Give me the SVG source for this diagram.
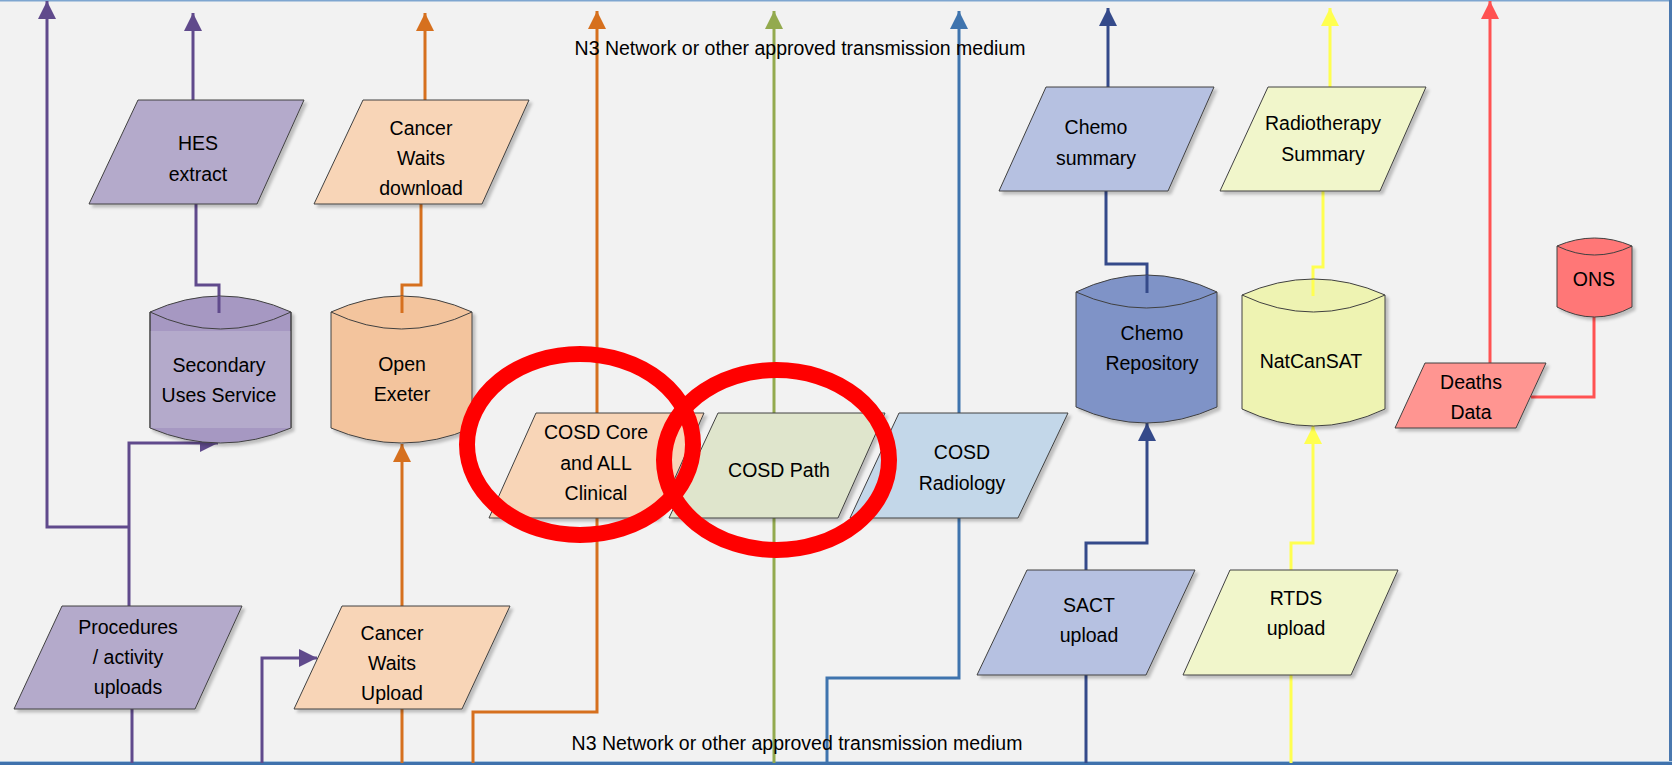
<svg xmlns="http://www.w3.org/2000/svg" width="1672" height="765" viewBox="0 0 1672 765">
  <style>
    text { font-family: "Liberation Sans", Arial, sans-serif; font-size: 19.5px; fill: #000; text-anchor: middle; }
    .shape { stroke: #404040; stroke-width: 1; filter: url(#shadow); }
    .edge { fill: none; stroke-width: 3; stroke-linejoin: miter; }
    .purple { stroke: #604a8c; }
    .orange { stroke: #d6701e; }
    .green { stroke: #93aa4e; }
    .blue { stroke: #3f74ae; }
    .navy { stroke: #354a8a; }
    .yellow { stroke: #ffff50; }
    .red { stroke: #ff5252; }
    .ring { fill: none; stroke: #ff0000; stroke-width: 16; }
  </style>
  <defs>
    <filter id="shadow" x="-10%" y="-10%" width="130%" height="130%">
      <feDropShadow dx="3" dy="3" stdDeviation="1.5" flood-color="#000" flood-opacity="0.22"/>
    </filter>
    <marker id="a-purple" viewBox="0 0 10 10" refX="10" refY="5" markerUnits="userSpaceOnUse" markerWidth="19" markerHeight="18" orient="auto"><path d="M0,0 L10,5 L0,10 z" fill="#604a8c"/></marker>
    <marker id="a-orange" viewBox="0 0 10 10" refX="10" refY="5" markerUnits="userSpaceOnUse" markerWidth="19" markerHeight="18" orient="auto"><path d="M0,0 L10,5 L0,10 z" fill="#d6701e"/></marker>
    <marker id="a-green" viewBox="0 0 10 10" refX="10" refY="5" markerUnits="userSpaceOnUse" markerWidth="19" markerHeight="18" orient="auto"><path d="M0,0 L10,5 L0,10 z" fill="#93aa4e"/></marker>
    <marker id="a-blue" viewBox="0 0 10 10" refX="10" refY="5" markerUnits="userSpaceOnUse" markerWidth="19" markerHeight="18" orient="auto"><path d="M0,0 L10,5 L0,10 z" fill="#3f74ae"/></marker>
    <marker id="a-navy" viewBox="0 0 10 10" refX="10" refY="5" markerUnits="userSpaceOnUse" markerWidth="19" markerHeight="18" orient="auto"><path d="M0,0 L10,5 L0,10 z" fill="#354a8a"/></marker>
    <marker id="a-yellow" viewBox="0 0 10 10" refX="10" refY="5" markerUnits="userSpaceOnUse" markerWidth="19" markerHeight="18" orient="auto"><path d="M0,0 L10,5 L0,10 z" fill="#ffff50"/></marker>
    <marker id="a-red" viewBox="0 0 10 10" refX="10" refY="5" markerUnits="userSpaceOnUse" markerWidth="19" markerHeight="18" orient="auto"><path d="M0,0 L10,5 L0,10 z" fill="#ff5252"/></marker>
  </defs>

  <!-- page background and frame -->
  <rect x="0" y="0" width="1672" height="765" fill="#f2f2f2"/>
  <line x1="0" y1="0.75" x2="1672" y2="0.75" stroke="#7ea6d0" stroke-width="1.5"/>
  <line x1="1670.5" y1="0" x2="1670.5" y2="765" stroke="#4a78af" stroke-width="3"/>
  <line x1="0" y1="763.5" x2="1672" y2="763.5" stroke="#3f72ad" stroke-width="3"/>
  <line x1="0" y1="761.5" x2="1672" y2="761.5" stroke="#a9c4de" stroke-width="1"/>

  <!-- connectors -->
  <g id="connectors">
    <!-- procedures / activity -->
    <path class="edge purple" d="M129,606 V443 H218" marker-end="url(#a-purple)"/>
    <path class="edge purple" d="M129,527 H47 V1" marker-end="url(#a-purple)"/>
    <path class="edge purple" d="M132,763 V709"/>
    <path class="edge purple" d="M262,763 V658 H317" marker-end="url(#a-purple)"/>
    <!-- SUS to HES -->
    <path class="edge purple" d="M219,313 V285 H196 V204"/>
    <path class="edge purple" d="M193,100 V13" marker-end="url(#a-purple)"/>
    <!-- cancer waits -->
    <path class="edge orange" d="M402,763 V709"/>
    <path class="edge orange" d="M402,606 V444" marker-end="url(#a-orange)"/>
    <path class="edge orange" d="M402,313 V285 H421 V204"/>
    <path class="edge orange" d="M425,100 V13" marker-end="url(#a-orange)"/>
    <!-- COSD core -->
    <path class="edge orange" d="M473,763 V712 H597 V518"/>
    <path class="edge orange" d="M597,413 V11" marker-end="url(#a-orange)"/>
    <!-- COSD path -->
    <path class="edge green" d="M774,763 V518"/>
    <path class="edge green" d="M774,413 V11" marker-end="url(#a-green)"/>
    <!-- COSD radiology -->
    <path class="edge blue" d="M827,763 V678 H959 V518"/>
    <path class="edge blue" d="M959,413 V11" marker-end="url(#a-blue)"/>
    <!-- SACT / chemo -->
    <path class="edge navy" d="M1086,763 V675"/>
    <path class="edge navy" d="M1086,570 V543 H1147 V423" marker-end="url(#a-navy)"/>
    <path class="edge navy" d="M1147,293 V264 H1106 V191"/>
    <path class="edge navy" d="M1108,87 V8" marker-end="url(#a-navy)"/>
    <!-- RTDS / radiotherapy -->
    <path class="edge yellow" d="M1291,763 V675"/>
    <path class="edge yellow" d="M1291,570 V543 H1313 V426" marker-end="url(#a-yellow)"/>
    <path class="edge yellow" d="M1313,296 V267 H1323 V191"/>
    <path class="edge yellow" d="M1330,87 V8" marker-end="url(#a-yellow)"/>
    <!-- deaths -->
    <path class="edge red" d="M1490,363 V1" marker-end="url(#a-red)"/>
    <path class="edge red" d="M1594,317 V397 H1531"/>
  </g>

  <!-- transmission medium labels -->
  <text x="800" y="55">N3 Network or other approved transmission medium</text>
  <text x="797" y="750">N3 Network or other approved transmission medium</text>

  <!-- data flows (parallelograms) -->
  <g id="hes-extract">
    <polygon class="shape" points="138,100 304,100 257,204 89,204" fill="#b4aacb"/>
    <text x="198" y="150">HES</text>
    <text x="198" y="181">extract</text>
  </g>
  <g id="cancer-waits-download">
    <polygon class="shape" points="363,100 529,100 482,204 314,204" fill="#f8d5b7"/>
    <text x="421" y="135">Cancer</text>
    <text x="421" y="165">Waits</text>
    <text x="421" y="195">download</text>
  </g>
  <g id="procedures-uploads">
    <polygon class="shape" points="62,606 242,606 195,709 14,709" fill="#b4aacb"/>
    <text x="128" y="634">Procedures</text>
    <text x="128" y="664">/ activity</text>
    <text x="128" y="694">uploads</text>
  </g>
  <g id="cancer-waits-upload">
    <polygon class="shape" points="342,606 510,606 462,709 294,709" fill="#f8d5b7"/>
    <text x="392" y="640">Cancer</text>
    <text x="392" y="670">Waits</text>
    <text x="392" y="700">Upload</text>
  </g>
  <g id="cosd-core">
    <polygon class="shape" points="536,413 704,413 657,518 489,518" fill="#f8d5b7"/>
    <text x="596" y="439">COSD Core</text>
    <text x="596" y="470">and ALL</text>
    <text x="596" y="500">Clinical</text>
  </g>
  <g id="cosd-path">
    <polygon class="shape" points="718,413 885,413 838,518 669,518" fill="#dfe5cc"/>
    <text x="779" y="477">COSD Path</text>
  </g>
  <g id="cosd-radiology">
    <polygon class="shape" points="899,413 1068,413 1018,518 850,518" fill="#c3d7e9"/>
    <text x="962" y="459">COSD</text>
    <text x="962" y="490">Radiology</text>
  </g>
  <g id="chemo-summary">
    <polygon class="shape" points="1046,87 1214,87 1168,191 999,191" fill="#b6c1e1"/>
    <text x="1096" y="134">Chemo</text>
    <text x="1096" y="165">summary</text>
  </g>
  <g id="radiotherapy-summary">
    <polygon class="shape" points="1268,87 1426,87 1380,191 1220,191" fill="#f1f6cb"/>
    <text x="1323" y="130">Radiotherapy</text>
    <text x="1323" y="161">Summary</text>
  </g>
  <g id="sact-upload">
    <polygon class="shape" points="1027,570 1195,570 1146,675 977,675" fill="#b6c1e1"/>
    <text x="1089" y="612">SACT</text>
    <text x="1089" y="642">upload</text>
  </g>
  <g id="rtds-upload">
    <polygon class="shape" points="1230,570 1398,570 1351,675 1183,675" fill="#f1f6cb"/>
    <text x="1296" y="605">RTDS</text>
    <text x="1296" y="635">upload</text>
  </g>
  <g id="deaths-data">
    <polygon class="shape" points="1425,363 1546,363 1516,428 1395,428" fill="#ff9591"/>
    <text x="1471" y="389">Deaths</text>
    <text x="1471" y="419">Data</text>
  </g>

  <!-- data stores (cylinders) -->
  <g id="secondary-uses-service">
    <path class="shape" d="M150,312 Q220.5,280 291,312 V428 Q220.5,458 150,428 Z" fill="#a698c2"/>
    <path d="M150.5,331 H290.5 V428 H150.5 Z" fill="#b4aacb"/>
    <path d="M150,312 Q220.5,346 291,312" fill="none" stroke="#404040" stroke-width="1"/>
    <path d="M150,312 V428 M291,312 V428" stroke="#404040" stroke-width="1"/>
    <path class="edge purple" d="M219,296 V313"/>
    <text x="219" y="372">Secondary</text>
    <text x="219" y="402">Uses Service</text>
  </g>
  <g id="open-exeter">
    <path class="shape" d="M331,312 Q401.5,280 472,312 V428 Q401.5,458 331,428 Z" fill="#f3c49d"/>
    <path d="M331,312 Q401.5,346 472,312" fill="none" stroke="#404040" stroke-width="1"/>
    <path class="edge orange" d="M402,296 V313"/>
    <text x="402" y="371">Open</text>
    <text x="402" y="401">Exeter</text>
  </g>
  <g id="chemo-repository">
    <path class="shape" d="M1076,292 Q1146.5,258 1217,292 V407 Q1146.5,439 1076,407 Z" fill="#7f93c7"/>
    <path d="M1076,292 Q1146.5,324 1217,292" fill="none" stroke="#404040" stroke-width="1"/>
    <path class="edge navy" d="M1147,275 V293"/>
    <text x="1152" y="340">Chemo</text>
    <text x="1152" y="370">Repository</text>
  </g>
  <g id="natcansat">
    <path class="shape" d="M1242,295 Q1313.5,263 1385,295 V409 Q1313.5,443 1242,409 Z" fill="#eef3b2"/>
    <path d="M1242,295 Q1313.5,329 1385,295" fill="none" stroke="#404040" stroke-width="1"/>
    <path class="edge yellow" d="M1313,280 V296"/>
    <text x="1311" y="368">NatCanSAT</text>
  </g>
  <g id="ons">
    <path class="shape" d="M1557,246 Q1594.5,230 1632,246 V307 Q1594.5,327 1557,307 Z" fill="#ff7777"/>
    <path d="M1557,246 Q1594.5,264 1632,246" fill="none" stroke="#404040" stroke-width="1"/>
    <text x="1594" y="286">ONS</text>
  </g>

  <!-- highlight rings -->
  <g id="highlights">
    <ellipse class="ring" cx="580" cy="444.5" rx="113" ry="90.5"/>
    <ellipse class="ring" cx="776.5" cy="460" rx="112.5" ry="90"/>
  </g>
</svg>
